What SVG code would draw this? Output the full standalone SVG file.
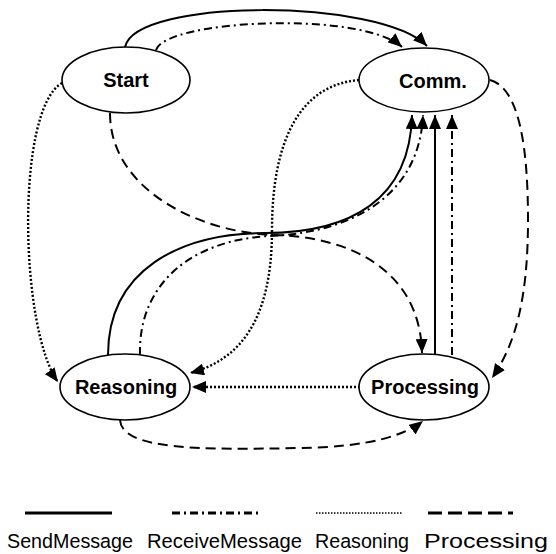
<svg xmlns="http://www.w3.org/2000/svg" width="556" height="554" viewBox="0 0 556 554">
<style>
.node ellipse{fill:#fff;stroke:#000;stroke-width:1.6}
.node text{font-family:"Liberation Sans",Arial,sans-serif;font-weight:bold;font-size:20px;text-anchor:middle;fill:#000}
.e{fill:none;stroke:#000;stroke-width:2}
.send{}
.recv{stroke-dasharray:8 4 2 4}
.reas{stroke-dasharray:2 2;stroke-width:2.4}
.proc{stroke-dasharray:10 6}
.legend text{font-family:"Liberation Sans",Arial,sans-serif;font-size:20.5px;fill:#000}
</style>
<defs>
<marker id="ah" viewBox="0 0 14 12" refX="14" refY="6" markerWidth="14" markerHeight="12" markerUnits="userSpaceOnUse" orient="auto">
<path d="M0,0 L14,6 L0,12 z" fill="#000"/>
</marker>
</defs>
<rect width="556" height="554" fill="#fff"/>
<g id="connectors">
<path class="e send" d="M125,47 C 135,-2 380,-2 427,46" marker-end="url(#ah)"/>
<path class="e recv" d="M156,50 C 165,20 360,10 402,47" marker-end="url(#ah)"/>
<path class="e reas" d="M62,83 C 15,110 20,330 58,382" marker-end="url(#ah)"/>
<path class="e proc" d="M110,113 C 110,190 200,233 275,235 C 350,237 420,270 422,353" marker-end="url(#ah)"/>
<path class="e reas" d="M359,80 C 300,85 272,140 272,230 C 272,320 240,360 190,373" marker-end="url(#ah)"/>
<path class="e proc" d="M490,80 C 520,88 528,150 528,220 C 528,300 515,345 492,378" marker-end="url(#ah)"/>
<path class="e send" d="M108,355 C 108,270 180,233 265,233 C 350,233 410,200 412,115" marker-end="url(#ah)"/>
<path class="e recv" d="M140,355 C 138,285 190,240 270,236 C 360,232 420,190 423,115" marker-end="url(#ah)"/>
<path class="e send" d="M435,355 L435,115" marker-end="url(#ah)"/>
<path class="e recv" d="M452,355 L452,115" marker-end="url(#ah)"/>
<path class="e reas" d="M360,387 L192,387" marker-end="url(#ah)"/>
<path class="e proc" d="M120,420 C 122,450 200,450 300,448 C 370,447 405,435 423,421" marker-end="url(#ah)"/>
</g>
<g id="start" class="node"><ellipse cx="126" cy="80" rx="64" ry="33"/><text x="126" y="87">Start</text></g>
<g id="comm" class="node"><ellipse cx="424" cy="80" rx="65" ry="32"/><text x="433" y="88">Comm.</text></g>
<g id="reasoning" class="node"><ellipse cx="125" cy="387" rx="65" ry="33"/><text x="126" y="394">Reasoning</text></g>
<g id="processing" class="node"><ellipse cx="424" cy="387" rx="65" ry="33"/><text x="425" y="394">Processing</text></g>
<g id="legend" class="legend">
<line x1="25" y1="513" x2="112" y2="513" stroke="#000" stroke-width="3"/>
<line x1="172" y1="513" x2="260" y2="513" stroke="#000" stroke-width="3" stroke-dasharray="8 4 2 4"/>
<line x1="316" y1="513" x2="402" y2="513" stroke="#000" stroke-width="1.6" stroke-dasharray="1.5 1.5"/>
<line x1="428" y1="513" x2="513" y2="513" stroke="#000" stroke-width="3" stroke-dasharray="14 6"/>
<text x="7" y="548" textLength="126" lengthAdjust="spacingAndGlyphs">SendMessage</text>
<text x="147" y="548" textLength="155" lengthAdjust="spacingAndGlyphs">ReceiveMessage</text>
<text x="315" y="548" textLength="94" lengthAdjust="spacingAndGlyphs">Reasoning</text>
<text x="424" y="548" textLength="124" lengthAdjust="spacingAndGlyphs">Processing</text>
</g>
</svg>
